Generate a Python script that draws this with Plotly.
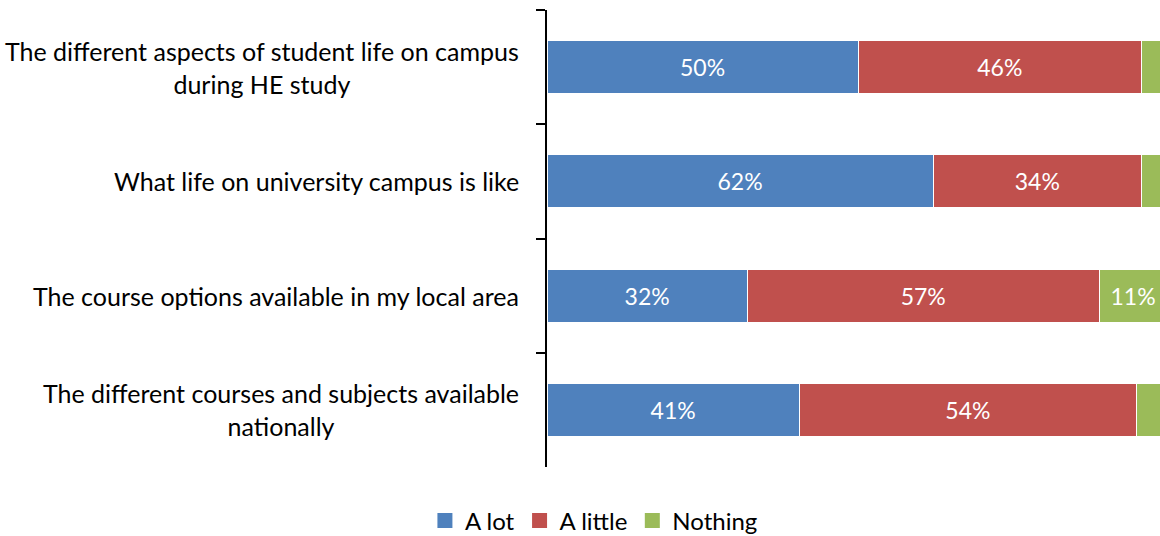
import plotly.graph_objects as go

categories = [
    "The different aspects of student life on campus<br>during HE study",
    "What life on university campus is like",
    "The course options available in my local area",
    "The different courses and subjects available<br>nationally",
]
a_lot = [50.2, 62.3, 32.3, 40.7]
a_little = [45.7, 33.6, 56.8, 54.4]
nothing = [4.1, 4.1, 10.9, 4.9]

series = [
    ("A lot", a_lot, "#4F81BD"),
    ("A little", a_little, "#C0504D"),
    ("Nothing", nothing, "#9BBB59"),
]

FONT = "Lato"

fig = go.Figure()
for name, vals, color in series:
    fig.add_trace(go.Bar(
        y=categories, x=vals, name=name, orientation="h",
        marker=dict(color=color, line=dict(color="white", width=1)),
        text=[f"{v:.0f}%" if v >= 8 else "" for v in vals],
        textposition="inside", insidetextanchor="middle",
        textfont=dict(color="white", size=23, family=FONT),
        hoverinfo="skip", showlegend=False,
    ))

# legend entries with larger square swatches
for name, vals, color in series:
    fig.add_trace(go.Scatter(
        x=[None], y=[None], mode="markers", name=name,
        marker=dict(symbol="square", size=15, color=color),
        hoverinfo="skip",
    ))

for c in categories:
    fig.add_annotation(
        x=0, y=c, xref="paper", yref="y", text=c, showarrow=False,
        xanchor="right", xshift=-26, align="center",
        font=dict(size=25, family=FONT, color="black"),
    )

fig.update_layout(
    width=1160, height=536,
    barmode="stack", bargap=0.535,
    plot_bgcolor="white", paper_bgcolor="white",
    margin=dict(l=547, r=0, t=10, b=69),
    font=dict(family=FONT, color="black"),
    showlegend=True,
    legend=dict(
        orientation="h", xref="container", yref="container",
        x=0.512, xanchor="center", y=0.028, yanchor="middle",
        font=dict(size=24, family=FONT), traceorder="normal",
        itemwidth=30,
    ),
    xaxis=dict(range=[0, 98.9], visible=False),
    yaxis=dict(
        type="category", autorange="reversed", showticklabels=False,
        showline=True, linecolor="black", linewidth=1.5,
        ticks="outside", tickson="boundaries", ticklen=9,
        tickcolor="black", tickwidth=1.5, showgrid=False, zeroline=False,
    ),
)

fig.write_html("out.html", config={"displayModeBar": False},
               post_script="document.body.style.margin='0';")
